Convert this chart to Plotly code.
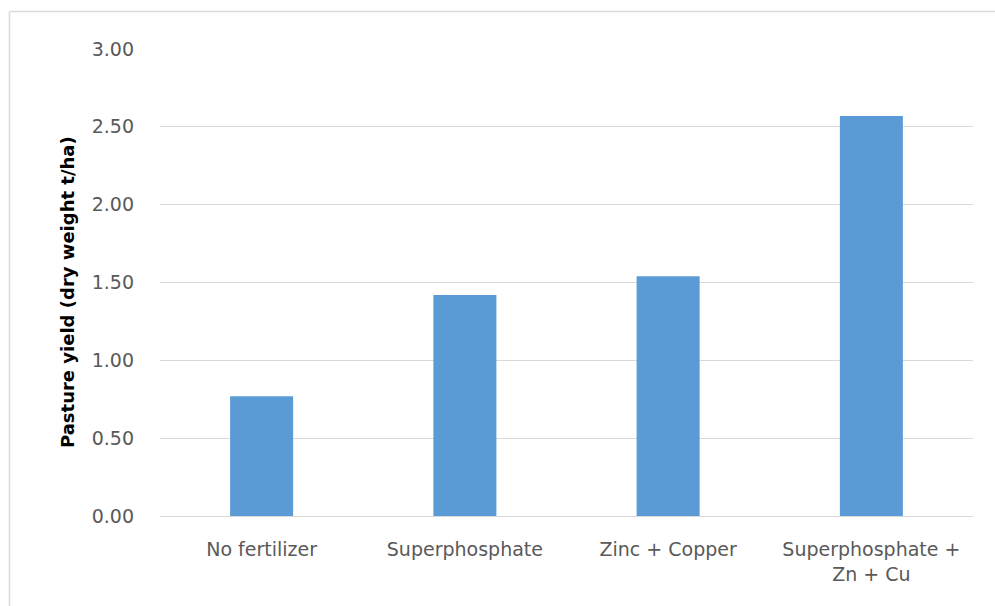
import plotly.graph_objects as go

# Pasture yield by fertilizer treatment
treatments = ["No fertilizer", "Superphosphate", "Zinc + Copper", "Superphosphate +<br>Zn + Cu"]
yield_t_ha = [0.77, 1.42, 1.54, 2.57]
y_ticks = [0.0, 0.5, 1.0, 1.5, 2.0, 2.5, 3.0]
y_tick_text = ["0.00", "0.50", "1.00", "1.50", "2.00", "2.50", "3.00"]

W, H = 995, 606
ML, MR, MT, MB = 160, 22, 49, 90
plot_w = W - ML - MR
plot_h = H - MT - MB


def px_to_paper_x(px):
    return (px - ML) / plot_w


def px_to_paper_y(py):
    return (H - MB - py) / plot_h


fig = go.Figure(
    go.Bar(
        x=treatments,
        y=yield_t_ha,
        marker=dict(color="#5B9BD5", line=dict(width=0)),
        hoverinfo="x+y",
    )
)

fig.update_layout(
    width=W,
    height=H,
    margin=dict(l=ML, r=MR, t=MT, b=MB),
    paper_bgcolor="white",
    plot_bgcolor="white",
    bargap=0.69,
    showlegend=False,
    font=dict(family="DejaVu Sans", color="#595959"),
)

fig.update_xaxes(
    showgrid=False,
    showline=False,
    ticks="",
    tickfont=dict(size=19, color="#595959"),
    ticklabelstandoff=20,
)

fig.update_yaxes(
    range=[0, 3],
    tickvals=y_ticks,
    ticktext=y_tick_text,
    showgrid=True,
    gridcolor="#D9D9D9",
    gridwidth=1,
    zeroline=True,
    zerolinecolor="#D9D9D9",
    zerolinewidth=1,
    showline=False,
    ticks="",
    tickfont=dict(size=19, color="#595959"),
    ticklabelstandoff=25,
)

# Axis title
fig.add_annotation(
    text="<b>Pasture yield (dry weight t/ha)</b>",
    xref="paper",
    yref="paper",
    x=px_to_paper_x(67),
    y=px_to_paper_y(292),
    xanchor="center",
    yanchor="middle",
    textangle=-90,
    showarrow=False,
    font=dict(family="DejaVu Sans", size=18, color="#000000"),
)

# Chart frame (left and top edges)
fig.add_shape(
    type="line", xref="paper", yref="paper",
    x0=px_to_paper_x(9.5), x1=px_to_paper_x(W + 5),
    y0=px_to_paper_y(11.5), y1=px_to_paper_y(11.5),
    line=dict(color="#D9D9D9", width=1.5),
)
fig.add_shape(
    type="line", xref="paper", yref="paper",
    x0=px_to_paper_x(9.5), x1=px_to_paper_x(9.5),
    y0=px_to_paper_y(11.5), y1=px_to_paper_y(H + 5),
    line=dict(color="#D9D9D9", width=1.5),
)

fig.write_html("out.html")
